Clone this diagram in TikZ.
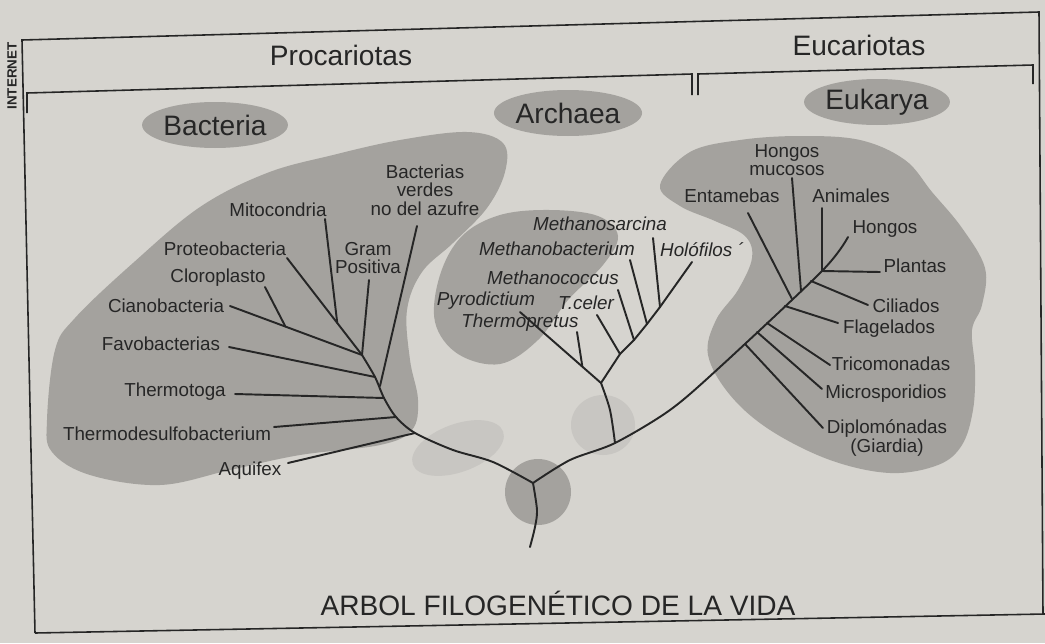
\documentclass[tikz,border=0pt]{standalone}
\usepackage{fontspec}
\setmainfont{Liberation Sans}
\usetikzlibrary{calc,shapes.geometric}
\definecolor{paper}{RGB}{214,212,207}
\definecolor{blob}{RGB}{164,162,158}
\definecolor{haze}{RGB}{200,198,194}
\definecolor{ink}{RGB}{38,38,38}

\begin{document}
\begin{tikzpicture}[x=0.02cm,y=-0.02cm,
    tree/.style={draw=ink,line width=1.1pt,line cap=round,line join=round},
    frame/.style={draw=ink,line width=0.9pt},
    lbl/.style={text=ink,inner sep=0pt,align=center,font=\fontsize{10.7}{10.6}\selectfont},
    spp/.style={lbl,font=\fontsize{10.7}{10.6}\selectfont\itshape},
    head/.style={text=ink,inner sep=0pt,font=\fontsize{16}{18}\selectfont},
    domainbox/.style={head,ellipse,fill=blob,minimum width=2.88cm,minimum height=0.92cm}]
    \fill[paper] (0,0) rectangle (1045,643);
    \useasboundingbox (0,0) rectangle (1045,643);

    % shaded groups
    \fill[blob] plot[smooth cycle,tension=0.6] coordinates {(47,420) (55,350) (75,318) (133,263) (200,207)
        (267,173) (333,155) (400,140) (467,132) (503,143) (505,172) (487,208) (453,243) (422,272)
        (407,310) (410,360) (418,400) (412,430) (380,445) (300,455) (230,470) (160,485) (90,475) (52,452)};
    \fill[blob] plot[smooth cycle,tension=0.6] coordinates {(435,322) (440,275) (462,236) (500,215)
        (550,210) (598,216) (618,236) (603,265) (568,300) (538,340) (500,364) (458,354)};
    \fill[blob] plot[smooth cycle,tension=0.6] coordinates {(660,185) (690,152) (740,140) (800,136)
        (860,140) (905,160) (932,192) (962,228) (985,268) (982,305) (972,330) (975,370) (973,410)
        (962,445) (938,465) (890,473) (830,460) (770,430) (730,395) (708,355) (716,320) (738,290)
        (752,258) (745,236) (715,221) (680,206)};
    \fill[haze,rotate around={20:(458,448)}] (458,448) ellipse [x radius=48,y radius=24];
    \fill[haze] (603,425) ellipse [x radius=32,y radius=30];
    \fill[blob] (538,492) circle [radius=33];

    % frame and brackets
    \draw[frame] (35,633) -- (22,40) -- (1039,12) -- (1043,614);
    \draw[frame] (35,633) -- (1045,614);
    \draw[frame] (27,113) -- (27,93) -- (692,74) -- (692,95);
    \draw[frame] (698,95) -- (698,74) -- (1033,65) -- (1033,84);
    \node[head] (proc) at (341,55) {Procariotas};
    \node[head] (euc) at (859,45) {Eucariotas};
    \node[text=ink,rotate=90,inner sep=0pt,font=\bfseries\fontsize{7.6}{8}\selectfont] (net) at (12,76) {INTERNET};

    \node[domainbox] (bac) at (215,125) {Bacteria};
    \node[domainbox] (arc) at (568,113) {Archaea};
    \node[domainbox] (euk) at (877,102) {Eukarya};

    % bacteria
    \coordinate (root) at (533,483);
    \coordinate (jB1) at (362,355);
    \coordinate (jFav) at (375,377);
    \coordinate (jVerd) at (380,386);
    \coordinate (jThmt) at (384,398);
    \coordinate (jThds) at (396,417);
    \coordinate (jAqu) at (415,433);
    \coordinate (tCian) at (230,306);
    \coordinate (tClor) at (265,287);
    \coordinate (tProt) at (287,258);
    \coordinate (tMito) at (325,219);
    \coordinate (tGram) at (369,280);
    \coordinate (tVerd) at (417,226);
    \coordinate (tFav) at (229,347);
    \coordinate (tThmt) at (235,394);
    \coordinate (tThds) at (274,427);
    \coordinate (tAqu) at (288,463);
    \draw[tree] plot[smooth,tension=0.5] coordinates {(jB1) (jFav) (jThmt) (jThds) (jAqu) (453,450) (493,462) (root)};
    \draw[tree] plot[smooth] coordinates {(root) (537,510) (535,527) (530,547)};
    \draw[tree] (tCian) -- (jB1);
    \draw[tree] (tClor) -- ($(tCian)!0.42!(jB1)$);
    \draw[tree] (tProt) -- (jB1);
    \draw[tree] (tMito) -- ($(tProt)!0.67!(jB1)$);
    \draw[tree] (tGram) -- (jB1);
    \draw[tree] (tVerd) -- (jVerd);
    \draw[tree] (tFav) -- (jFav);
    \draw[tree] (tThmt) -- (jThmt);
    \draw[tree] (tThds) -- (jThds);
    \draw[tree] (tAqu) -- (jAqu);
    \node[lbl] (mito) at (278,210) {Mitocondria};
    \node[lbl] (prot) at (225,249) {Proteobacteria};
    \node[lbl] (clor) at (218,278) {Cloroplasto};
    \node[lbl] (cian) at (166,306) {Cianobacteria};
    \node[lbl] (gram) at (368,258) {Gram\\Positiva};
    \node[lbl] (verd) at (425,190) {Bacterias\\verdes\\no del azufre};
    \node[lbl] (fav) at (161,344) {Favobacterias};
    \node[lbl] (thmt) at (175,392) {Thermotoga};
    \node[lbl] (thds) at (167,434) {Thermodesulfobacterium};
    \node[lbl] (aqu) at (250,471) {Aquifex};

    % eukarya
    \coordinate (jArc) at (615,443);
    \coordinate (jDip) at (745,344);
    \coordinate (jMic) at (757,332);
    \coordinate (jTri) at (767,323);
    \coordinate (jFla) at (785,306);
    \coordinate (jEnt) at (792,299);
    \coordinate (jHm) at (801,291);
    \coordinate (jCil) at (811,281);
    \coordinate (jPla) at (822,271);
    \coordinate (tHong) at (848,237);
    \draw[tree] plot[smooth,tension=0.5] coordinates {(root) (570,460) (jArc) (670,410) (720,367) (jPla) (tHong)};
    \draw[tree] (748,213) coordinate (tEnt) -- (jEnt);
    \draw[tree] (792,178) coordinate (tHm) -- (jHm);
    \draw[tree] (822,208) coordinate (tAni) -- (jPla);
    \draw[tree] (jPla) -- (880,272) coordinate (tPla);
    \draw[tree] (jCil) -- (868,305) coordinate (tCil);
    \draw[tree] (jFla) -- (838,323) coordinate (tFla);
    \draw[tree] (jTri) -- (830,365) coordinate (tTri);
    \draw[tree] (jMic) -- (822,389) coordinate (tMic);
    \draw[tree] (jDip) -- (823,428) coordinate (tDip);
    \node[lbl] (hm) at (787,160) {Hongos\\mucosos};
    \node[lbl] (ent) at (732,196) {Entamebas};
    \node[lbl] (ani) at (851,196) {Animales};
    \node[lbl] (hong) at (885,229) {Hongos};
    \node[lbl] (pla) at (915,266) {Plantas};
    \node[lbl] (cil) at (906,306) {Ciliados};
    \node[lbl] (fla) at (889,329) {Flagelados};
    \node[lbl] (tri) at (891,364) {Tricomonadas};
    \node[lbl] (mic) at (886,394) {Microsporidios};
    \node[lbl] (dip) at (887,438) {Diplomónadas\\(Giardia)};

    % archaea
    \coordinate (aA1) at (601,383);
    \coordinate (aA2) at (620,354);
    \coordinate (aA3) at (634,340);
    \coordinate (aA4) at (647,324);
    \coordinate (aA5) at (660,307);
    \coordinate (tHol) at (692,262);
    \coordinate (tPyro) at (520,312);
    \draw[tree] plot[smooth] coordinates {(jArc) (610,410) (aA1)};
    \draw[tree] (tPyro) -- (aA1) -- (aA2) -- (aA3) -- (aA4) -- (aA5) -- (tHol);
    \draw[tree] (577,332) coordinate (tThpr) -- ($(aA1)!0.23!(tPyro)$);
    \draw[tree] (597,315) coordinate (tCel) -- (aA2);
    \draw[tree] (618,290) coordinate (tCoc) -- (aA3);
    \draw[tree] (630,260) coordinate (tBac) -- (aA4);
    \draw[tree] (653,238) coordinate (tSar) -- (aA5);
    \node[spp] (sar) at (600,224) {Methanosarcina};
    \node[spp] (mbac) at (557,249) {Methanobacterium};
    \node[spp] (hol) at (702,250) {Holófilos ´};
    \node[spp] (coc) at (553,278) {Methanococcus};
    \node[spp] (pyro) at (486,301) {Pyrodictium};
    \node[spp] (cel) at (586,303) {T.celer};
    \node[spp] (thpr) at (520,323) {Thermopretus};

    \node[head] (title) at (558,603) {ARBOL FILOGENÉTICO DE LA VIDA};
\end{tikzpicture}
\end{document}
